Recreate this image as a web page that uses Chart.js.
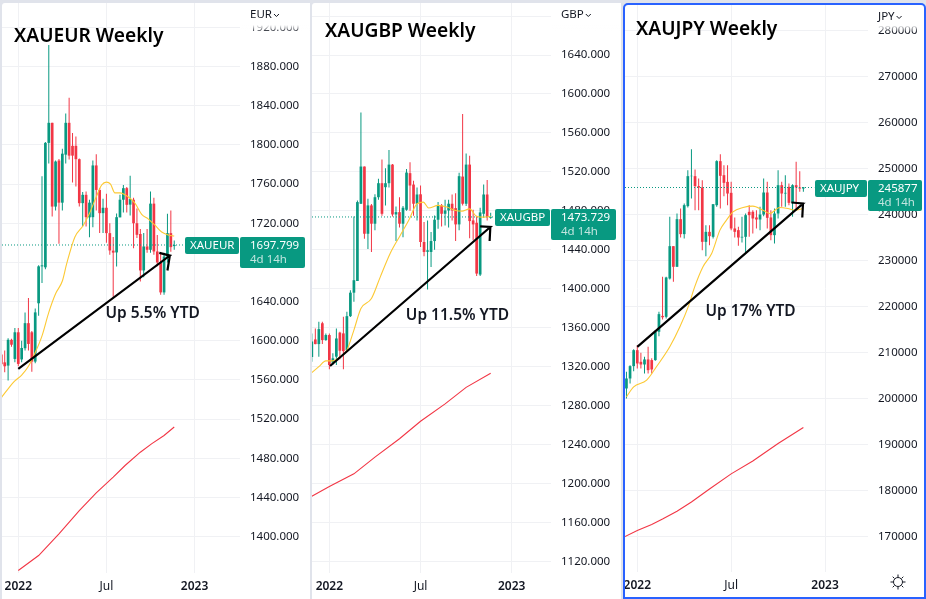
<!DOCTYPE html>
<html>
<head>
	<title>XAU Weekly Charts</title>
	<script src="https://cdn.jsdelivr.net/npm/chart.js"></script>
	<style type="text/css">
		html, body {
			margin: 0;
			padding: 0;
			width: 926px;
			height: 599px;
			overflow: hidden;
			background: #e0e3eb;
		}
		.panel {
			position: absolute;
			background: #ffffff;
			border-radius: 3px 3px 0 0;
		}
		.panel canvas { display: block; }
		#eur { left: 2px; top: 3px; width: 308px; height: 596px; }
		#gbp { left: 312px; top: 3px; width: 309px; height: 596px; }
		#jpy { left: 625px; top: 5px; width: 299px; height: 592px; outline: 2px solid #2962ff; }
	</style>
</head>
<body>
	<div class="panel" id="eur"><canvas id="eurChart" width="308" height="596"></canvas></div>
	<div class="panel" id="gbp"><canvas id="gbpChart" width="309" height="596"></canvas></div>
	<div class="panel" id="jpy"><canvas id="jpyChart" width="299" height="592"></canvas></div>

	<script>
		// week number counted from the 2022 tick
		const weeks = [-5,-4,-3,-2,-1,0,1,2,3,4,5,6,7,8,9,10,11,12,13,14,15,16,17,18,19,20,21,22,23,24,25,26,27,28,29,30,31,32,33,34,35,36,37,38,39,40,41,42,43,44,45,46];
		const jpyWeeks = weeks.slice(2);
		const timeTicks = [0, 26, 52];
		const timeLabels = ['2022', 'Jul', '2023'];

		// XAUEUR
		const eurOpen = [1586,1578,1574.7,1601,1581.5,1608.7,1581,1592.4,1618,1608.7,1578.8,1638.3,1676,1675,1802,1822.5,1737,1784,1741,1790,1822.5,1799,1799,1785.4,1740.5,1749,1726,1726.2,1779,1754,1730.3,1735.8,1709.9,1692,1690.2,1726,1744,1755.8,1739,1744,1720,1709,1671.8,1696.3,1692.9,1740,1691.2,1680,1649.4,1686,1709.9,1696.7];
		const eurHigh = [1586,1590,1602.6,1602,1613,1613,1600,1629,1643.7,1610,1633,1677,1768,1803,1902,1822.5,1784,1785.5,1796,1832,1848,1812,1808.5,1786,1752,1752.4,1744,1784,1790.5,1756,1745,1750,1720,1706,1730,1749,1759,1757,1768.4,1746,1735,1714,1710,1714,1752.4,1746,1708,1690,1690,1729.6,1733,1702.4];
		const eurLow = [1574,1568,1559.4,1594,1578,1574,1578,1590,1590,1568.5,1577,1625.7,1659,1673,1781,1727,1733,1699,1733,1781,1785,1761.6,1757.5,1737,1716.7,1716.7,1705.8,1716,1733,1710,1710,1700,1687.8,1645,1675.9,1726,1731,1731,1728,1694.6,1705,1660.6,1665,1690,1690,1687.8,1676,1647,1647,1680,1691,1693];
		const eurClose = [1576,1574,1601,1596,1608.7,1576.4,1592.7,1618,1596.8,1578.8,1629,1676,1677,1802,1822.5,1737,1783,1741,1791,1822.5,1789,1789,1785.4,1740.5,1749,1726.2,1741,1779,1754,1730.3,1735.8,1709.9,1692.2,1690,1726.2,1744,1755.8,1738.8,1744.6,1720,1708.2,1671.8,1696.3,1692.9,1740,1691.2,1680,1649.4,1686,1709.9,1695.6,1697.799];
		const eurMaFast = [[-5,1542],[-3,1551],[-1,1559],[1,1565],[3,1574],[5,1588],[7,1605],[9,1629],[11,1648],[13,1661],[14.3,1679],[16.7,1706],[19.2,1718],[21,1730],[23,1747],[24.6,1759],[26,1762],[27.2,1760],[28.5,1751],[30,1751],[32.4,1747],[34.4,1740.5],[36.4,1729],[38.3,1724.5],[40.3,1718],[42.3,1711],[44.2,1708],[46,1707]];
		const eurMaSlow = [[0,1365.5],[6,1380.8],[12,1403],[18,1426.7],[23,1444.8],[28,1460.8],[31.5,1472.7],[36,1486.3],[39.3,1494.8],[43,1503.3],[46,1512]];
		const eurArrow = [[0,1571.3],[44.7,1687],[41.6,1689.8],[44.7,1687],[44,1671.8]];
		const eurPriceTicks = [1400,1440,1480,1520,1560,1600,1640,1680,1720,1760,1800,1840,1880,1920];

		// XAUGBP
		const gbpOpen = [1330,1348,1343.2,1364.6,1347.3,1352.5,1324.1,1330.3,1355,1354.2,1337,1371.9,1396,1408,1487.3,1525.5,1456.5,1485.6,1466.8,1494,1508.4,1504.3,1508.4,1527.5,1476.3,1478.7,1466.8,1481.1,1518.7,1507,1487.3,1497,1448,1438,1437.8,1449,1470.9,1485.6,1477,1480.4,1487.3,1482.8,1466.1,1515.2,1487.3,1527.5,1470.2,1467.8,1414.6,1477,1496.8,1473];
		const gbpHigh = [1354,1359.3,1366.1,1366.1,1354.2,1354.2,1333.7,1359.3,1355.9,1371.2,1376.3,1398.5,1474.3,1490.7,1581,1525.5,1492.4,1487,1497,1513,1532.6,1523.8,1542.5,1528,1484.5,1494,1485,1523,1530,1511,1504,1506,1468.5,1470,1458.2,1475.3,1489,1487,1491.4,1491.4,1496.8,1498,1519,1579.4,1539,1536.7,1481.1,1475,1483.2,1507,1511.8,1478];
		const gbpLow = [1325,1343,1330.3,1343.2,1346.6,1317.3,1321.7,1321.7,1327.6,1317.3,1335,1371,1386.6,1408,1487,1451.4,1440.8,1437.8,1460,1491.4,1475,1485.6,1504,1474.3,1449,1463,1453,1480,1480,1475,1470,1442.9,1433.3,1399.2,1422.4,1440,1461.7,1464,1465,1463,1470,1449,1460,1485.6,1485,1452,1449.7,1413,1413,1473,1470,1471.9];
		const gbpClose = [1346,1343.2,1358.6,1347.3,1352.5,1321.7,1328.6,1349,1336.4,1336,1371.9,1396,1408.8,1489,1525.5,1456.5,1485.6,1466.8,1494,1508.4,1477,1508.4,1527.5,1476.3,1478.7,1466.8,1483.2,1519.3,1506,1487.3,1496.8,1448,1437.8,1439.5,1449,1470.9,1485.6,1477,1480.4,1487.3,1480.4,1466.1,1515.6,1487.3,1527.5,1469.5,1466.1,1415.6,1478.4,1496.8,1473.6,1473.729];
		const gbpMaFast = [[-5,1313.9],[-3,1320],[-1,1326],[1,1326],[3,1330],[5,1337],[7,1357.6],[9,1379.7],[12,1390],[14.5,1412],[17.3,1436],[20.2,1454.8],[22.6,1470],[25,1487.3],[26.8,1489],[28.3,1483],[31,1485.6],[33.5,1484],[36,1480.4],[37.8,1479.7],[40,1482],[42,1474.3],[44,1473.6],[46,1474.3]];
		const gbpMaSlow = [[-5,1186.9],[0,1197.1],[7,1210],[13,1227.2],[20,1246],[26,1264],[33,1281.8],[39,1298.8],[46,1313.2]];
		const gbpArrow = [[0.2,1320.7],[45.9,1463.4],[43,1464],[45.9,1463.4],[45.7,1449]];
		const gbpPriceTicks = [1120,1160,1200,1240,1280,1320,1360,1400,1440,1480,1520,1560,1600,1640,1680];

		// XAUJPY
		const jpyOpen = [202240,204410,207090,210560,208030,207450,208540,208400,208400,214550,218000,217800,226120,233140,228660,239000,235750,241830,248340,248340,246170,245880,234080,236250,235170,242040,251600,248550,247100,244720,236980,236620,235020,235170,240600,240600,239370,238930,240010,244790,239370,235530,240230,246380,244570,246020,242550,246380,245880,245660];
		const jpyHigh = [205860,207310,210780,211650,209980,209120,211290,208800,214910,218880,226480,226480,239510,233140,240230,241320,242400,249640,254200,249800,247830,247470,237700,237700,242260,251800,253100,250700,250700,247100,239370,237340,239510,240230,242000,240960,240960,241680,247830,247100,240960,241320,249640,247100,248550,246740,246600,251450,249420,246000];
		const jpyLow = [200070,203330,206000,206580,206580,205500,205500,205500,208250,213600,217220,217440,225900,225400,228660,235020,234800,241530,243490,240960,240960,232270,230970,233360,234800,241680,241320,244000,242040,236620,235020,233220,233940,231700,235170,235890,236980,236620,239650,236980,234440,233720,239150,241680,241680,242040,239510,240960,244940,244940];
		const jpyClose = [204410,207090,210560,207670,207450,208540,206220,206370,214550,218380,217700,226340,233140,228660,239000,235750,242040,248340,248410,246170,245880,234080,236250,235310,242260,251600,248410,246890,244570,236980,236250,235020,235170,239870,239870,239150,238930,240010,244790,239290,235530,240230,246380,244570,244720,242550,246380,245880,245660,245877];
		const jpyMaFast = [[-3,200430],[-1,202600],[2.6,204050],[5.3,206950],[9,211290],[11.8,215630],[14.1,219970],[15.9,224310],[18.2,228660],[20.6,231550],[22.9,236620],[24.7,238790],[26.5,240600],[29.3,241530],[32,241830],[34.8,240960],[36.7,240230],[39.4,241530],[41.7,241320],[43.6,240960],[45.9,241320]];
		const jpyMaSlow = [[-3.4,170100],[0,171400],[4,172700],[7,173900],[11,175600],[15,177600],[20,180400],[26,183700],[32,186500],[39,190300],[46,193750]];
		const jpyArrow = [[0,211290],[45.9,242400],[42.7,242620],[45.9,242400],[45.7,239370]];
		const jpyPriceTicks = [170000,180000,190000,200000,210000,220000,230000,240000,250000,260000,270000,280000];

		const UP = '#089981', DOWN = '#f23645', GRID = '#f0f1f4', TEXT = '#131722';
		const FONT = '"Noto Sans"';

		function pairs(list) {
			return list.map(p => ({ x: p[0], y: p[1] }));
		}

		// texts and boxes that tradingview draws on top of the chart
		const overlay = {
			id: 'overlay',
			afterDraw(chart, args, o) {
				const c = chart.ctx, y = chart.scales.y, a = chart.chartArea, x = chart.scales.x;
				const py = Math.round(y.getPixelForValue(o.last));
				c.save();

				// header hides the top tick
				const g = c.createLinearGradient(0, o.fadeTop, 0, o.fadeTop + 7);
				g.addColorStop(0, 'rgba(255,255,255,1)');
				g.addColorStop(1, 'rgba(255,255,255,0)');
				c.fillStyle = '#fff';
				c.fillRect(a.right + 1, 0, chart.width - a.right - 1, o.fadeTop);
				c.fillStyle = g;
				c.fillRect(a.right + 1, o.fadeTop, chart.width - a.right - 1, 7);

				c.fillStyle = TEXT;
				c.textBaseline = 'middle';
				c.font = '11.5px ' + FONT;
				c.fillText(o.currency, a.right + 10, 12);
				const w = c.measureText(o.currency).width;
				c.strokeStyle = TEXT;
				c.lineWidth = 1;
				c.beginPath();
				c.moveTo(a.right + 12 + w, 11);
				c.lineTo(a.right + 14.5 + w, 13.5);
				c.lineTo(a.right + 17 + w, 11);
				c.stroke();

				// symbol label and price box
				c.fillStyle = UP;
				c.beginPath();
				c.roundRect(o.labelLeft, py - 8, a.right - o.labelLeft - 1, 17, 2);
				c.fill();
				c.beginPath();
				c.roundRect(a.right, py - 8, o.boxWidth, 31, 2);
				c.fill();
				c.fillStyle = '#ffffff';
				c.font = '11.5px ' + FONT;
				c.fillText(o.symbol, o.labelLeft + 5, py + 1);
				c.fillText(o.lastText, a.right + 10, py + 1);
				c.fillStyle = 'rgba(255,255,255,0.75)';
				c.fillText('4d 14h', a.right + 10, py + 15);

				// drawn text on the chart
				c.fillStyle = '#000000';
				c.font = '600 19.2px ' + FONT;
				c.fillText(o.title, o.titleX, o.titleY);
				c.fillStyle = TEXT;
				c.font = '600 15.5px ' + FONT;
				c.fillText(o.note, x.getPixelForValue(o.noteAt[0]), y.getPixelForValue(o.noteAt[1]));

				// settings icon of the last chart
				if (o.sun) {
					const sx = a.right + 30, sy = a.bottom + 10;
					c.strokeStyle = TEXT;
					c.beginPath();
					c.arc(sx, sy, 4.5, 0, Math.PI * 2);
					for (let i = 0; i < 8; i++) {
						const t = i * Math.PI / 4;
						c.moveTo(sx + Math.cos(t) * 5, sy + Math.sin(t) * 5);
						c.lineTo(sx + Math.cos(t) * 7.5, sy + Math.sin(t) * 7.5);
					}
					c.stroke();
				}
				c.restore();
			}
		};

		function drawChart(id, s) {
			const up = s.weeks.map((w, i) => s.close[i] >= s.open[i] ? UP : DOWN);
			new Chart(document.getElementById(id), {
				type: 'bar',
				plugins: [overlay],
				data: {
					datasets: [
						{ order: 0, type: 'line', data: pairs(s.arrow), borderColor: '#000000', borderWidth: 2.2, pointRadius: 0, tension: 0, borderJoinStyle: 'miter' },
						{ order: 1, type: 'line', data: pairs(s.maFast), borderColor: '#fcc934', borderWidth: 1.1, pointRadius: 0, cubicInterpolationMode: 'monotone' },
						{ order: 1, type: 'line', data: pairs(s.maSlow), borderColor: '#f23645', borderWidth: 1.1, pointRadius: 0, tension: 0 },
						{ order: 2, type: 'line', data: pairs([[s.xMin, s.last], [s.dotsTo, s.last]]), borderColor: UP, borderWidth: 1, borderDash: [1, 2], pointRadius: 0 },
						{ order: 3, data: s.weeks.map((w, i) => ({ x: w, y: [s.open[i], s.close[i]] })), backgroundColor: up, barThickness: 2.7, inflateAmount: 0, grouped: false },
						{ order: 4, data: s.weeks.map((w, i) => ({ x: w, y: [s.low[i], s.high[i]] })), backgroundColor: up, barThickness: 1, inflateAmount: 0, grouped: false }
					]
				},
				options: {
					responsive: false,
					animation: false,
					events: [],
					layout: { padding: 0 },
					plugins: {
						legend: { display: false },
						tooltip: { enabled: false },
						overlay: s
					},
					scales: {
						x: {
							type: 'linear',
							offset: false,
							min: s.xMin,
							max: s.xMax,
							border: { display: false },
							grid: { color: GRID, offset: false, drawTicks: false },
							afterBuildTicks: a => { a.ticks = timeTicks.map(v => ({ value: v })); },
							afterFit: a => {
								a.height = s.axisHeight;
								a.paddingLeft = a.paddingRight = 0;
							},
							ticks: {
								autoSkip: false,
								maxRotation: 0,
								padding: 6,
								color: TEXT,
								font: c => ({ family: FONT, size: 12, weight: c.tick && c.tick.value === 26 ? 'normal' : '600' }),
								callback: v => timeLabels[timeTicks.indexOf(v)]
							}
						},
						y: {
							type: 'linear',
							position: 'right',
							min: s.yMin,
							max: s.yMax,
							beginAtZero: false,
							border: { display: false },
							grid: { color: GRID, drawTicks: false },
							afterBuildTicks: a => { a.ticks = s.priceTicks.map(v => ({ value: v })); },
							afterFit: a => {
								a.width = s.axisWidth;
								a.paddingTop = a.paddingBottom = 0;
							},
							ticks: {
								autoSkip: false,
								padding: 10,
								color: TEXT,
								font: { family: FONT, size: 11.5 },
								callback: v => s.decimals ? v.toFixed(s.decimals) : String(v)
							}
						}
					}
				}
			});
		}

		drawChart('eurChart', {
			weeks: weeks, open: eurOpen, high: eurHigh, low: eurLow, close: eurClose,
			maFast: eurMaFast, maSlow: eurMaSlow, arrow: eurArrow, priceTicks: eurPriceTicks, decimals: 3,
			xMin: -4.8, xMax: 65.4, yMin: 1363, yMax: 1944.8, axisWidth: 70, axisHeight: 26,
			last: 1697.799, lastText: '1697.799', symbol: 'XAUEUR', currency: 'EUR', dotsTo: 50,
			labelLeft: 183, boxWidth: 65, fadeTop: 22,
			title: 'XAUEUR Weekly', titleX: 12, titleY: 34,
			note: 'Up 5.5% YTD', noteAt: [25.7, 1628]
		});
		drawChart('gbpChart', {
			weeks: weeks, open: gbpOpen, high: gbpHigh, low: gbpLow, close: gbpClose,
			maFast: gbpMaFast, maSlow: gbpMaSlow, arrow: gbpArrow, priceTicks: gbpPriceTicks, decimals: 3,
			xMin: -4.95, xMax: 63.2, yMin: 1108.2, yMax: 1693.4, axisWidth: 70, axisHeight: 26,
			last: 1473.729, lastText: '1473.729', symbol: 'XAUGBP', currency: 'GBP', dotsTo: 47.5,
			labelLeft: 183, boxWidth: 65, fadeTop: 22,
			title: 'XAUGBP Weekly', titleX: 13, titleY: 29,
			note: 'Up 11.5% YTD', noteAt: [21.8, 1372.5]
		});
		drawChart('jpyChart', {
			weeks: jpyWeeks, open: jpyOpen, high: jpyHigh, low: jpyLow, close: jpyClose,
			maFast: jpyMaFast, maSlow: jpyMaSlow, arrow: jpyArrow, priceTicks: jpyPriceTicks, decimals: 0,
			xMin: -3.4, xMax: 63.9, yMin: 162392, yMax: 285503, axisWidth: 56, axisHeight: 25,
			last: 245877, lastText: '245877', symbol: 'XAUJPY', currency: 'JPY', dotsTo: 49,
			labelLeft: 190, boxWidth: 54, fadeTop: 20, sun: true,
			title: 'XAUJPY Weekly', titleX: 11, titleY: 25,
			note: 'Up 17% YTD', noteAt: [18.9, 218900]
		});
	</script>
</body>
</html>
